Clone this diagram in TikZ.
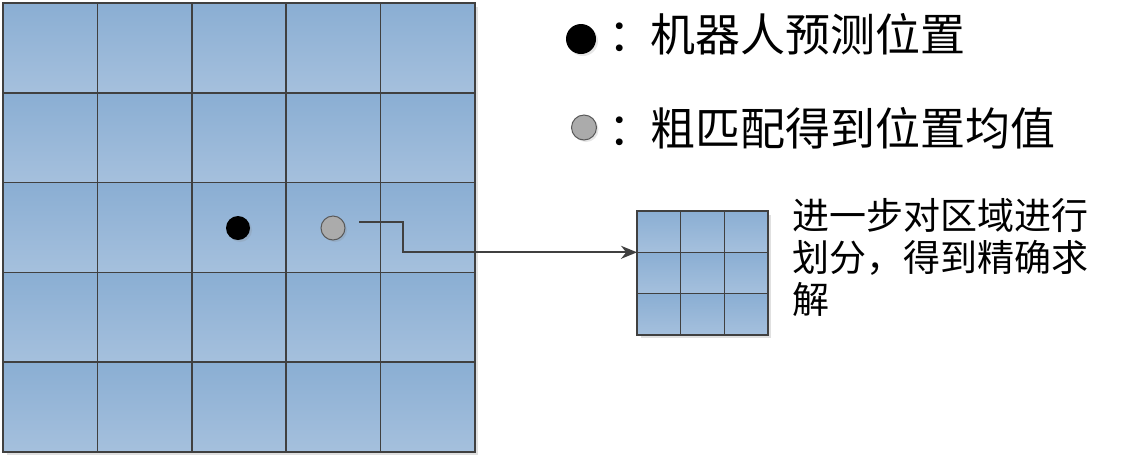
\documentclass[tikz,border=0pt]{standalone}
\usepackage{fontspec}
\newfontfamily\cjk{Noto Sans CJK SC}
\usetikzlibrary{arrows.meta,shadows}

\definecolor{cellTop}{RGB}{138,174,211}
\definecolor{cellBot}{RGB}{165,192,221}
\definecolor{lineGray}{RGB}{64,64,64}

\tikzset{
	cell/.style={draw=lineGray, line width=1.5pt, top color=cellTop, bottom color=cellBot,
		minimum width=94.4pt, minimum height=89.8pt, inner sep=0pt, outer sep=0pt},
	finecell/.style={cell, minimum width=43.7pt, minimum height=41.3pt},
	dot/.style={circle, minimum size=24pt, inner sep=0pt,
		drop shadow={opacity=0.2, shadow xshift=2pt, shadow yshift=-2pt}},
	bigtext/.style={font=\cjk\fontsize{45}{54}\selectfont, inner sep=0pt, anchor=base west},
	smalltext/.style={font=\cjk\fontsize{37}{42}\selectfont, inner sep=0pt, align=left, anchor=north west},
}

\begin{document}
\begin{tikzpicture}[x=1pt,y=-1pt]
	\useasboundingbox (0,0) rectangle (1142,459);

	% coarse grid
	\fill[black!12] (7,7) rectangle (478,455);
	\foreach \r in {0,...,4}
		\foreach \c in {0,...,4}
			\node[cell] (g-\r-\c) at ({50.2+94.4*\c},{47.9+89.8*\r}) {};

	% positions
	\node[dot, fill=black] (pred) at (238,228) {};
	\node[dot, fill=black!33, draw=black!65, line width=1pt] (mean) at (333,228) {};

	% fine grid
	\fill[black!12] (641,215) rectangle (771,338);
	\foreach \r in {0,1,2}
		\foreach \c in {0,1,2}
			\node[finecell] (s-\r-\c) at ({658.85+43.7*\c},{231.65+41.3*\r}) {};

	% link
	\coordinate (start) at (359,222);
	\coordinate (bend) at (403,222);
	\draw[lineGray, line width=1.8pt, -{Stealth[length=16pt,width=13pt]}]
		(start) -- (bend) |- (s-0-0.south west);

	% legend
	\node[dot, fill=black, minimum size=30pt] (legpred) at (581,39) {};
	\node[dot, fill=black!33, draw=black!65, line width=1pt, minimum size=25pt] (legmean) at (584,127.5) {};
	\node[bigtext] (predtext) at (608,51) {：\hspace{-3pt}机器人预测位置};
	\node[bigtext] (meantext) at (608,145) {：\hspace{-3pt}粗匹配得到位置均值};

	\node[smalltext] (note) at (792,198) {进一步对区域进行\\划分，得到精确求\\解};
\end{tikzpicture}
\end{document}
